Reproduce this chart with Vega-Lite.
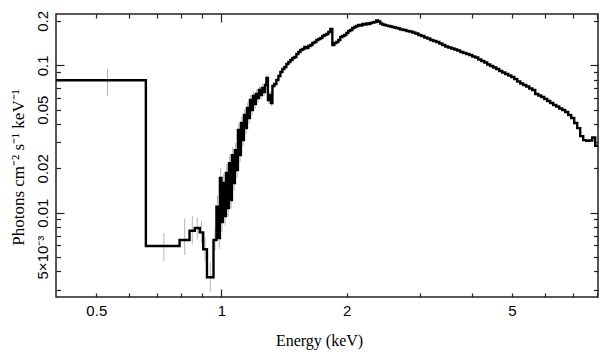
{
  "$schema": "https://vega.github.io/schema/vega-lite/v6.json",
  "width": 542,
  "height": 283,
  "autosize": {"type": "none"},
  "padding": {"left": 56, "top": 14, "right": 11, "bottom": 63},
  "background": "white",
  "config": {
    "view": {"stroke": "#222", "strokeWidth": 1.5},
    "axis": {
      "grid": false,
      "domain": false,
      "tickColor": "#222",
      "tickWidth": 1.2,
      "labelFont": "Liberation Sans",
      "labelFontSize": 15,
      "labelColor": "#000",
      "labelFlush": false,
      "labelOverlap": false,
      "labelBound": false,
      "titleFont": "Liberation Serif",
      "titleFontSize": 16,
      "titleFontWeight": "normal",
      "titleColor": "#000"
    }
  },
  "data": {
    "values": [
      {"e": 0.35, "f": 0.0791, "c": 0.532, "lo": 0.0619, "hi": 0.0944},
      {"e": 0.658, "f": 0.00594, "c": 0.727, "lo": 0.0047, "hi": 0.00727},
      {"e": 0.793, "f": 0.00653, "c": 0.816, "lo": 0.00516, "hi": 0.00916},
      {"e": 0.838, "f": 0.00755, "c": 0.851, "lo": 0.0061, "hi": 0.0095},
      {"e": 0.863, "f": 0.00787, "c": 0.875, "lo": 0.0066, "hi": 0.0093},
      {"e": 0.887, "f": 0.00736, "c": 0.895, "lo": 0.0062, "hi": 0.0088},
      {"e": 0.904, "f": 0.00565, "c": 0.913, "lo": 0.0047, "hi": 0.0068},
      {"e": 0.923, "f": 0.00365, "c": 0.94, "lo": 0.0029, "hi": 0.0046},
      {"e": 0.957, "f": 0.00653, "c": 0.965, "lo": 0.0055, "hi": 0.0078},
      {"e": 0.9727, "f": 0.01098, "c": 0.978, "lo": 0.0092, "hi": 0.0131},
      {"e": 0.9835, "f": 0.00674, "c": 0.988, "lo": 0.0057, "hi": 0.008},
      {"e": 0.9917, "f": 0.0172, "c": 0.996, "lo": 0.0146, "hi": 0.0202},
      {"e": 1.0, "f": 0.00865, "c": 1.004, "lo": 0.0074, "hi": 0.0101},
      {"e": 1.0083, "f": 0.0159, "c": 1.0125, "lo": 0.0137, "hi": 0.0184},
      {"e": 1.0167, "f": 0.0095, "c": 1.021, "lo": 0.0082, "hi": 0.011},
      {"e": 1.0252, "f": 0.0186, "c": 1.0295, "lo": 0.0162, "hi": 0.0213},
      {"e": 1.0338, "f": 0.01076, "c": 1.038, "lo": 0.0094, "hi": 0.0123},
      {"e": 1.0424, "f": 0.0217, "c": 1.0467, "lo": 0.019, "hi": 0.0247},
      {"e": 1.0511, "f": 0.0122, "c": 1.0555, "lo": 0.0107, "hi": 0.0139},
      {"e": 1.0598, "f": 0.0246, "c": 1.0642, "lo": 0.0217, "hi": 0.0278},
      {"e": 1.0687, "f": 0.0159, "c": 1.073, "lo": 0.0141, "hi": 0.0179},
      {"e": 1.0776, "f": 0.0266, "c": 1.082, "lo": 0.0236, "hi": 0.0298},
      {"e": 1.0866, "f": 0.0195, "c": 1.091, "lo": 0.0174, "hi": 0.0218},
      {"e": 1.0956, "f": 0.0364, "c": 1.1, "lo": 0.0326, "hi": 0.0405},
      {"e": 1.1048, "f": 0.0246, "c": 1.109, "lo": 0.0221, "hi": 0.0273},
      {"e": 1.114, "f": 0.0406, "c": 1.1187, "lo": 0.0367, "hi": 0.0447},
      {"e": 1.1233, "f": 0.0311, "c": 1.128, "lo": 0.0282, "hi": 0.0342},
      {"e": 1.1327, "f": 0.046, "c": 1.137, "lo": 0.0418, "hi": 0.0504},
      {"e": 1.1421, "f": 0.0375, "c": 1.147, "lo": 0.0342, "hi": 0.041},
      {"e": 1.1516, "f": 0.0513, "c": 1.156, "lo": 0.0469, "hi": 0.0559},
      {"e": 1.1612, "f": 0.0439, "c": 1.166, "lo": 0.0403, "hi": 0.0477},
      {"e": 1.1709, "f": 0.0582, "c": 1.176, "lo": 0.0535, "hi": 0.0631},
      {"e": 1.1807, "f": 0.0497, "c": 1.186, "lo": 0.0459, "hi": 0.0537},
      {"e": 1.1905, "f": 0.0619, "c": 1.195, "lo": 0.0572, "hi": 0.0668},
      {"e": 1.2005, "f": 0.0546, "c": 1.2055, "lo": 0.0506, "hi": 0.0588},
      {"e": 1.2105, "f": 0.0639, "c": 1.2155, "lo": 0.0594, "hi": 0.0686},
      {"e": 1.2206, "f": 0.06, "c": 1.2256, "lo": 0.0559, "hi": 0.0643},
      {"e": 1.2307, "f": 0.068, "c": 1.236, "lo": 0.0635, "hi": 0.0727},
      {"e": 1.241, "f": 0.0629, "c": 1.246, "lo": 0.0589, "hi": 0.0671},
      {"e": 1.2514, "f": 0.0701, "c": 1.2566, "lo": 0.0657, "hi": 0.0747},
      {"e": 1.2618, "f": 0.0659, "c": 1.267, "lo": 0.0619, "hi": 0.0701},
      {"e": 1.2723, "f": 0.0735, "c": 1.2776, "lo": 0.0692, "hi": 0.078},
      {"e": 1.2829, "f": 0.082, "c": 1.288, "lo": 0.0774, "hi": 0.0868},
      {"e": 1.2936, "f": 0.0582, "c": 1.299, "lo": 0.0548, "hi": 0.0618},
      {"e": 1.3044, "f": 0.0629, "c": 1.31, "lo": 0.0594, "hi": 0.0666},
      {"e": 1.3153, "f": 0.0555, "c": 1.321, "lo": 0.0524, "hi": 0.0588},
      {"e": 1.3263, "f": 0.0724, "c": 1.3336, "lo": 0.0688, "hi": 0.0762},
      {"e": 1.341, "f": 0.0747},
      {"e": 1.3559, "f": 0.0795},
      {"e": 1.371, "f": 0.0846},
      {"e": 1.3863, "f": 0.09},
      {"e": 1.4017, "f": 0.0944},
      {"e": 1.4173, "f": 0.0974},
      {"e": 1.433, "f": 0.102},
      {"e": 1.449, "f": 0.1053},
      {"e": 1.4651, "f": 0.1086},
      {"e": 1.4814, "f": 0.112},
      {"e": 1.4979, "f": 0.1138},
      {"e": 1.5145, "f": 0.1193},
      {"e": 1.5314, "f": 0.1231},
      {"e": 1.5484, "f": 0.127},
      {"e": 1.5657, "f": 0.129},
      {"e": 1.5831, "f": 0.1331},
      {"e": 1.6007, "f": 0.131},
      {"e": 1.6185, "f": 0.1352},
      {"e": 1.6365, "f": 0.1373},
      {"e": 1.6547, "f": 0.1417},
      {"e": 1.6731, "f": 0.1439},
      {"e": 1.6917, "f": 0.1485},
      {"e": 1.7105, "f": 0.1508},
      {"e": 1.7295, "f": 0.1532},
      {"e": 1.7488, "f": 0.158},
      {"e": 1.7682, "f": 0.1606},
      {"e": 1.7879, "f": 0.1631},
      {"e": 1.8078, "f": 0.1682},
      {"e": 1.8279, "f": 0.1763},
      {"e": 1.8482, "f": 0.1373},
      {"e": 1.8688, "f": 0.1417},
      {"e": 1.8896, "f": 0.1439},
      {"e": 1.9106, "f": 0.1485},
      {"e": 1.9318, "f": 0.1556},
      {"e": 1.9533, "f": 0.158},
      {"e": 1.9751, "f": 0.1606},
      {"e": 1.997, "f": 0.1656},
      {"e": 2.0193, "f": 0.1709},
      {"e": 2.0417, "f": 0.1736},
      {"e": 2.0644, "f": 0.1791},
      {"e": 2.0874, "f": 0.1819},
      {"e": 2.1106, "f": 0.1848},
      {"e": 2.1341, "f": 0.1877},
      {"e": 2.1578, "f": 0.186},
      {"e": 2.1818, "f": 0.1906},
      {"e": 2.2061, "f": 0.189},
      {"e": 2.2306, "f": 0.1921},
      {"e": 2.2554, "f": 0.1906},
      {"e": 2.2805, "f": 0.1936},
      {"e": 2.3059, "f": 0.195},
      {"e": 2.3315, "f": 0.1966},
      {"e": 2.3575, "f": 0.2013},
      {"e": 2.3837, "f": 0.1982},
      {"e": 2.4102, "f": 0.1921},
      {"e": 2.437, "f": 0.189},
      {"e": 2.4641, "f": 0.1877},
      {"e": 2.4915, "f": 0.186},
      {"e": 2.5193, "f": 0.1848},
      {"e": 2.5473, "f": 0.1833},
      {"e": 2.5756, "f": 0.1819},
      {"e": 2.6043, "f": 0.1805},
      {"e": 2.6332, "f": 0.1791},
      {"e": 2.6625, "f": 0.1777},
      {"e": 2.6921, "f": 0.175},
      {"e": 2.7384, "f": 0.1736},
      {"e": 2.7842, "f": 0.1709},
      {"e": 2.8308, "f": 0.1696},
      {"e": 2.8782, "f": 0.1669},
      {"e": 2.9265, "f": 0.1643},
      {"e": 2.9755, "f": 0.1606},
      {"e": 3.0254, "f": 0.158},
      {"e": 3.076, "f": 0.1544},
      {"e": 3.1275, "f": 0.152},
      {"e": 3.1799, "f": 0.1485},
      {"e": 3.2331, "f": 0.1462},
      {"e": 3.2873, "f": 0.1439},
      {"e": 3.3423, "f": 0.1406},
      {"e": 3.3983, "f": 0.1373},
      {"e": 3.4552, "f": 0.1342},
      {"e": 3.5131, "f": 0.1321},
      {"e": 3.5719, "f": 0.13},
      {"e": 3.6317, "f": 0.128},
      {"e": 3.6926, "f": 0.126},
      {"e": 3.7544, "f": 0.1231},
      {"e": 3.8173, "f": 0.1212},
      {"e": 3.8812, "f": 0.1193},
      {"e": 3.9462, "f": 0.1175},
      {"e": 4.0123, "f": 0.1147},
      {"e": 4.0795, "f": 0.1129},
      {"e": 4.1478, "f": 0.1095},
      {"e": 4.217, "f": 0.107},
      {"e": 4.2877, "f": 0.1045},
      {"e": 4.3595, "f": 0.1013},
      {"e": 4.4325, "f": 0.0989},
      {"e": 4.5068, "f": 0.0966},
      {"e": 4.5822, "f": 0.0944},
      {"e": 4.659, "f": 0.0915},
      {"e": 4.737, "f": 0.0894},
      {"e": 4.8163, "f": 0.0873},
      {"e": 4.897, "f": 0.0853},
      {"e": 4.979, "f": 0.0833},
      {"e": 5.0624, "f": 0.0807},
      {"e": 5.1472, "f": 0.0777},
      {"e": 5.2334, "f": 0.0752},
      {"e": 5.321, "f": 0.0735},
      {"e": 5.4101, "f": 0.0718},
      {"e": 5.5007, "f": 0.0696},
      {"e": 5.5929, "f": 0.068},
      {"e": 5.6866, "f": 0.0639},
      {"e": 5.7818, "f": 0.0624},
      {"e": 5.8786, "f": 0.061},
      {"e": 5.9771, "f": 0.0591},
      {"e": 6.0772, "f": 0.0573},
      {"e": 6.179, "f": 0.0555},
      {"e": 6.2825, "f": 0.0538},
      {"e": 6.3877, "f": 0.0526},
      {"e": 6.4938, "f": 0.0509},
      {"e": 6.6026, "f": 0.0497},
      {"e": 6.7132, "f": 0.0482},
      {"e": 6.8257, "f": 0.046},
      {"e": 6.94, "f": 0.0439},
      {"e": 7.0562, "f": 0.0406},
      {"e": 7.1744, "f": 0.0375},
      {"e": 7.2946, "f": 0.0331},
      {"e": 7.4168, "f": 0.0311},
      {"e": 7.541, "f": 0.0307},
      {"e": 7.6673, "f": 0.0309},
      {"e": 7.7957, "f": 0.0324},
      {"e": 7.9262, "f": 0.0284},
      {"e": 8.3, "f": 0.0284}
    ]
  },
  "layer": [
    {
      "transform": [{"filter": "isValid(datum.lo)"}],
      "mark": {"type": "rule", "color": "#b4b4b4", "strokeWidth": 1, "clip": true},
      "encoding": {
        "x": {
          "field": "c", "type": "quantitative",
          "scale": {"type": "log", "domain": [0.4, 8.05], "nice": false},
          "axis": {
            "orient": "bottom", "values": [0.5, 1, 2, 5], "ticks": false, "labelPadding": 6,
            "labelExpr": "datum.value < 0.7 ? '0.5' : datum.value < 1.5 ? '1' : datum.value < 3 ? '2' : '5'",
            "title": "Energy (keV)", "titleX": 263, "titleY": 48, "titleBaseline": "alphabetic"
          }
        },
        "y": {
          "field": "lo", "type": "quantitative",
          "scale": {"type": "log", "domain": [0.00268, 0.2229], "nice": false},
          "axis": {
            "orient": "left", "values": [0.005, 0.01, 0.02, 0.05, 0.1, 0.2], "ticks": false,
            "labelPadding": 9, "labelAngle": 270, "labelAlign": "center", "labelBaseline": "alphabetic",
            "labelExpr": "datum.value < 0.007 ? '5×10⁻³' : datum.value < 0.015 ? '0.01' : datum.value < 0.03 ? '0.02' : datum.value < 0.07 ? '0.05' : datum.value < 0.15 ? '0.1' : '0.2'",
            "title": "Photons cm⁻² s⁻¹ keV⁻¹", "titleFontSize": 17, "titleX": -33, "titleY": 153, "titleBaseline": "alphabetic"
          }
        },
        "y2": {"field": "hi"}
      }
    },
    {
      "mark": {"type": "line", "interpolate": "step-after", "color": "#000", "strokeWidth": 2.4, "clip": true},
      "encoding": {
        "x": {"field": "e", "type": "quantitative",
          "axis": {"orient": "bottom", "values": [1], "tickSize": -8, "labels": false, "title": null}},
        "y": {"field": "f", "type": "quantitative",
          "axis": {"orient": "left", "values": [0.01, 0.1], "tickSize": -8, "labels": false, "title": null}}
      }
    },
    {
      "mark": {"type": "point", "opacity": 0, "clip": true},
      "encoding": {
        "x": {"field": "e", "type": "quantitative",
          "axis": {"orient": "bottom", "values": [0.5, 0.6, 0.7, 0.8, 0.9, 2, 3, 4, 5, 6, 7, 8], "tickSize": -4, "labels": false, "title": null}},
        "y": {"field": "f", "type": "quantitative",
          "axis": {"orient": "left", "values": [0.003, 0.004, 0.005, 0.006, 0.007, 0.008, 0.009, 0.02, 0.03, 0.04, 0.05, 0.06, 0.07, 0.08, 0.09, 0.2], "tickSize": -4.5, "labels": false, "title": null}}
      }
    },
    {
      "mark": {"type": "point", "opacity": 0, "clip": true},
      "encoding": {
        "x": {"field": "e", "type": "quantitative",
          "axis": {"orient": "top", "values": [1], "tickSize": -8, "labels": false, "title": null}},
        "y": {"field": "f", "type": "quantitative",
          "axis": {"orient": "right", "values": [0.01, 0.1], "tickSize": -8, "labels": false, "title": null}}
      }
    },
    {
      "mark": {"type": "point", "opacity": 0, "clip": true},
      "encoding": {
        "x": {"field": "e", "type": "quantitative",
          "axis": {"orient": "top", "values": [0.5, 0.6, 0.7, 0.8, 0.9, 2, 3, 4, 5, 6, 7, 8], "tickSize": -4, "labels": false, "title": null}},
        "y": {"field": "f", "type": "quantitative",
          "axis": {"orient": "right", "values": [0.003, 0.004, 0.005, 0.006, 0.007, 0.008, 0.009, 0.02, 0.03, 0.04, 0.05, 0.06, 0.07, 0.08, 0.09, 0.2], "tickSize": -4.5, "labels": false, "title": null}}
      }
    }
  ],
  "resolve": {"axis": {"x": "independent", "y": "independent"}}
}
